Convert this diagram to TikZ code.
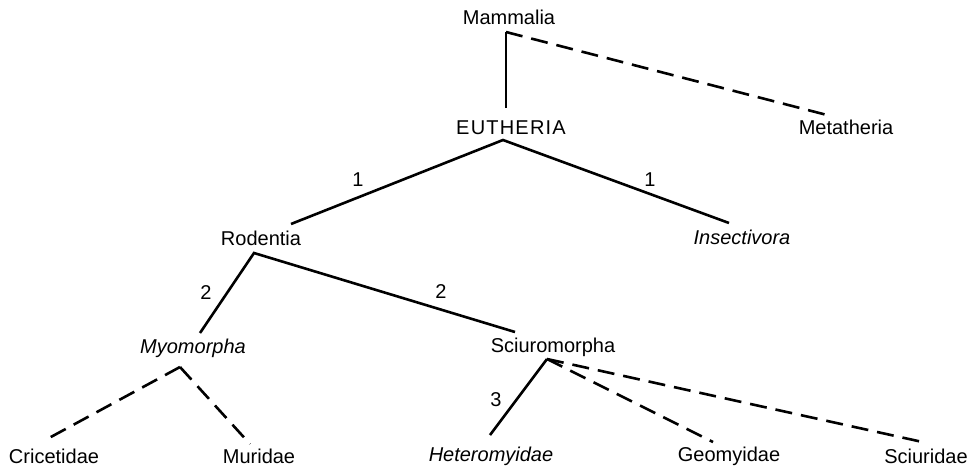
\documentclass[tikz,border=0pt]{standalone}
\usepackage{fontspec}
\setmainfont{Liberation Sans}
\begin{document}
\begin{tikzpicture}[x=1pt,y=-1pt,
  lbl/.style={inner sep=0pt, font=\fontsize{20}{22}\selectfont},
  ilbl/.style={lbl, font=\fontsize{20}{22}\selectfont\itshape},
  solidline/.style={line width=2.6pt, line join=miter},
  dashline/.style={line width=2.6pt, dash pattern=on 17pt off 9pt}]
\useasboundingbox (0,0) rectangle (977,469);

% taxon labels
\node[lbl]  (mam) at (509,17)  {Mammalia};
\node[lbl]  (eut) at (511,128) {\addfontfeature{LetterSpace=6}EUTHERIA};
\node[lbl]  (met) at (846,127) {Metatheria};
\node[lbl]  (rod) at (261,238) {Rodentia};
\node[ilbl] (ins) at (742,237) {Insectivora};
\node[ilbl] (myo) at (193,348) {Myomorpha};
\node[lbl]  (sci) at (553,347) {Sciuromorpha};
\node[lbl]  (cri) at (54,456)  {Cricetidae};
\node[lbl]  (mur) at (259,456) {Muridae};
\node[ilbl] (het) at (491,456) {Heteromyidae};
\node[lbl]  (geo) at (729,456) {Geomyidae};
\node[lbl]  (scu) at (926,456) {Sciuridae};

% branch numbers
\node[lbl] (n1a) at (358,180) {1};
\node[lbl] (n1b) at (650,180) {1};
\node[lbl] (n2a) at (206,293) {2};
\node[lbl] (n2b) at (441,292) {2};
\node[lbl] (n3)  at (496,400) {3};

% junction points and branch ends
\coordinate (mJ) at (506,32);
\coordinate (eTop) at (506,108);
\coordinate (metEnd) at (827,115);
\coordinate (eJ) at (503,140);
\coordinate (rodEnd) at (291,224);
\coordinate (insEnd) at (729,223);
\coordinate (rJ) at (254,253);
\coordinate (myoEnd) at (200,333);
\coordinate (sciEnd) at (515,332);
\coordinate (myJ) at (180,367);
\coordinate (criEnd) at (49,438);
\coordinate (murEnd) at (250,444);
\coordinate (sJ) at (547,359);
\coordinate (hetEnd) at (490,435);
\coordinate (geoEnd) at (713,442);
\coordinate (scuEnd) at (927,443);

% connectors
\draw[solidline] (eTop) -- (mJ);
\draw[dashline] (mJ) -- (metEnd);
\draw[solidline] (rodEnd) -- (eJ) -- (insEnd);
\draw[solidline] (myoEnd) -- (rJ) -- (sciEnd);
\draw[dashline] (myJ) -- (criEnd);
\draw[dashline] (myJ) -- (murEnd);
\draw[solidline] (hetEnd) -- (sJ);
\draw[dashline] (sJ) -- (geoEnd);
\draw[dashline] (sJ) -- (scuEnd);
\end{tikzpicture}
\end{document}
